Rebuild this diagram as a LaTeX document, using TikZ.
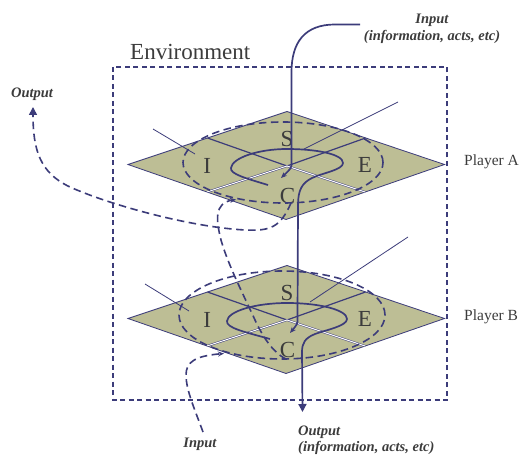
\documentclass[tikz,border=0pt]{standalone}
\usepackage{fontspec}
\setmainfont{Liberation Serif}
\usetikzlibrary{arrows.meta}
\definecolor{navy}{RGB}{60,60,122}
\definecolor{olive}{RGB}{189,190,149}
\definecolor{txt}{RGB}{60,60,60}
\tikzset{
 flow/.style={draw=navy, line width=1.7pt},
 dflow/.style={draw=navy, line width=1.6pt, dash pattern=on 7.5pt off 4.5pt},
 envbox/.style={draw=navy, line width=1.2pt, dash pattern=on 5pt off 3.5pt},
 thinline/.style={draw=navy, line width=0.8pt},
 letter/.style={text=txt, font=\fontsize{23}{25}\selectfont, inner sep=0pt},
 lbl/.style={text=txt, font=\fontsize{14.5}{16}\selectfont\bfseries\itshape, inner sep=0pt},
 player/.style={text=txt, font=\fontsize{15.5}{17}\selectfont, inner sep=0pt},
 bigtip/.tip={Triangle[length=8pt,width=8pt]},
 smalltip/.tip={Stealth[length=6pt,width=5pt]},
 plate/.pic={
   \fill[olive,draw=navy,line width=0.8pt] (128,164.5) -- (287,111.5) -- (444.5,164.5) -- (286,219.5) -- cycle;
   \draw[navy,line width=1.2pt] (207.5,138) -- (287,166) -- (365.5,138);
   \draw[navy,line width=0.5pt,double=white,double distance=1pt] (207,192) -- (287,166) -- (365,192);
   \node[letter,anchor=base] (-S) at (287,146.5) {S};
   \node[letter,anchor=base] (-I) at (207.3,173.3) {I};
   \node[letter,anchor=base] (-E) at (365,172.7) {E};
   \node[letter,anchor=base] (-C) at (287.5,203) {C};
 }
}
\begin{document}
\begin{tikzpicture}[x=1pt,y=-1pt]
\useasboundingbox (0,0) rectangle (526,454);
\fill[white] (0,0) rectangle (526,454);

% environment
\draw[envbox] (113,67) rectangle (447,400);
\node[letter,anchor=base west] (env) at (130,59.5) {Environment};

% plates
\pic (A) at (0,0) {plate};
\pic (B) at (0,154) {plate};
\node[player,anchor=base west] (pA) at (464,166) {Player A};
\node[player,anchor=base west] (pB) at (464,320) {Player B};

% thin lines
\draw[thinline] (153,129) -- (195,154);
\draw[thinline] (398,102) -- (304,149);
\draw[thinline] (145,284) -- (189,311);
\draw[thinline] (408,237) -- (310,302);

% dashed cycles
\draw[dflow] (283,162.5) ellipse [x radius=100pt, y radius=40.5pt];
\draw[dflow] (282,315) ellipse [x radius=103pt, y radius=44pt];

% labels
\node[lbl,anchor=base] (inT1) at (432,24) {Input};
\node[lbl,anchor=base] (inT2) at (432,41) {(information, acts, etc)};
\node[lbl,anchor=base] (outL) at (32,97.5) {Output};
\node[lbl,anchor=base] (inB) at (200,447) {Input};
\node[lbl,anchor=base west] (outB1) at (298,435) {Output};
\node[lbl,anchor=base west] (outB2) at (298,451) {(information, acts, etc)};

\coordinate (inStart) at (360,24.5);
\coordinate (outTip) at (33,107);
\coordinate (inBstart) at (203,432);

% solid input line to player A
\draw[flow,-smalltip] (inStart) -- (335,24.5) .. controls (305,24.5) and (291.5,42) .. (291.5,72) -- (291.5,163) .. controls (291.5,168) .. (281,178);

% loop A down to player B
\draw[flow,-smalltip] (268,185) .. controls (245,178) and (230,174) .. (231,168) .. controls (232,158) and (258,149) .. (287,149) .. controls (316,149) and (343,154) .. (343,163) .. controls (343,170) and (322,173) .. (312,178) .. controls (302,183) and (298,190) .. (298,205) -- (297.5,318) .. controls (297.5,324) .. (290,333);

% loop B down to output
\draw[flow,-bigtip] (270,339) .. controls (245,332) and (226,328) .. (227,321) .. controls (228,311) and (256,303) .. (287,303) .. controls (320,303) and (347,310) .. (347,319) .. controls (347,326) and (326,330) .. (315,334) .. controls (305,338) and (302,343) .. (302,352) -- (302.5,412);

% dashed: A to output
\draw[dflow,-bigtip] (291,203) .. controls (280,228) and (270,231) .. (245,230) .. controls (190,227) and (110,205) .. (70,187) .. controls (40,173) and (33,150) .. (outTip);

% dashed: B to A
\draw[dflow,-smalltip] (286,359) .. controls (272,352) and (262,335) .. (255,320) .. controls (245,298) and (228,265) .. (221,240) .. controls (216,220) and (214,203) .. (236,199.5);

% dashed: input to B
\draw[dflow,-smalltip] (inBstart) .. controls (195,410) and (186,390) .. (186,375) .. controls (186,362) and (195,356) .. (224,353.5);
\end{tikzpicture}
\end{document}
